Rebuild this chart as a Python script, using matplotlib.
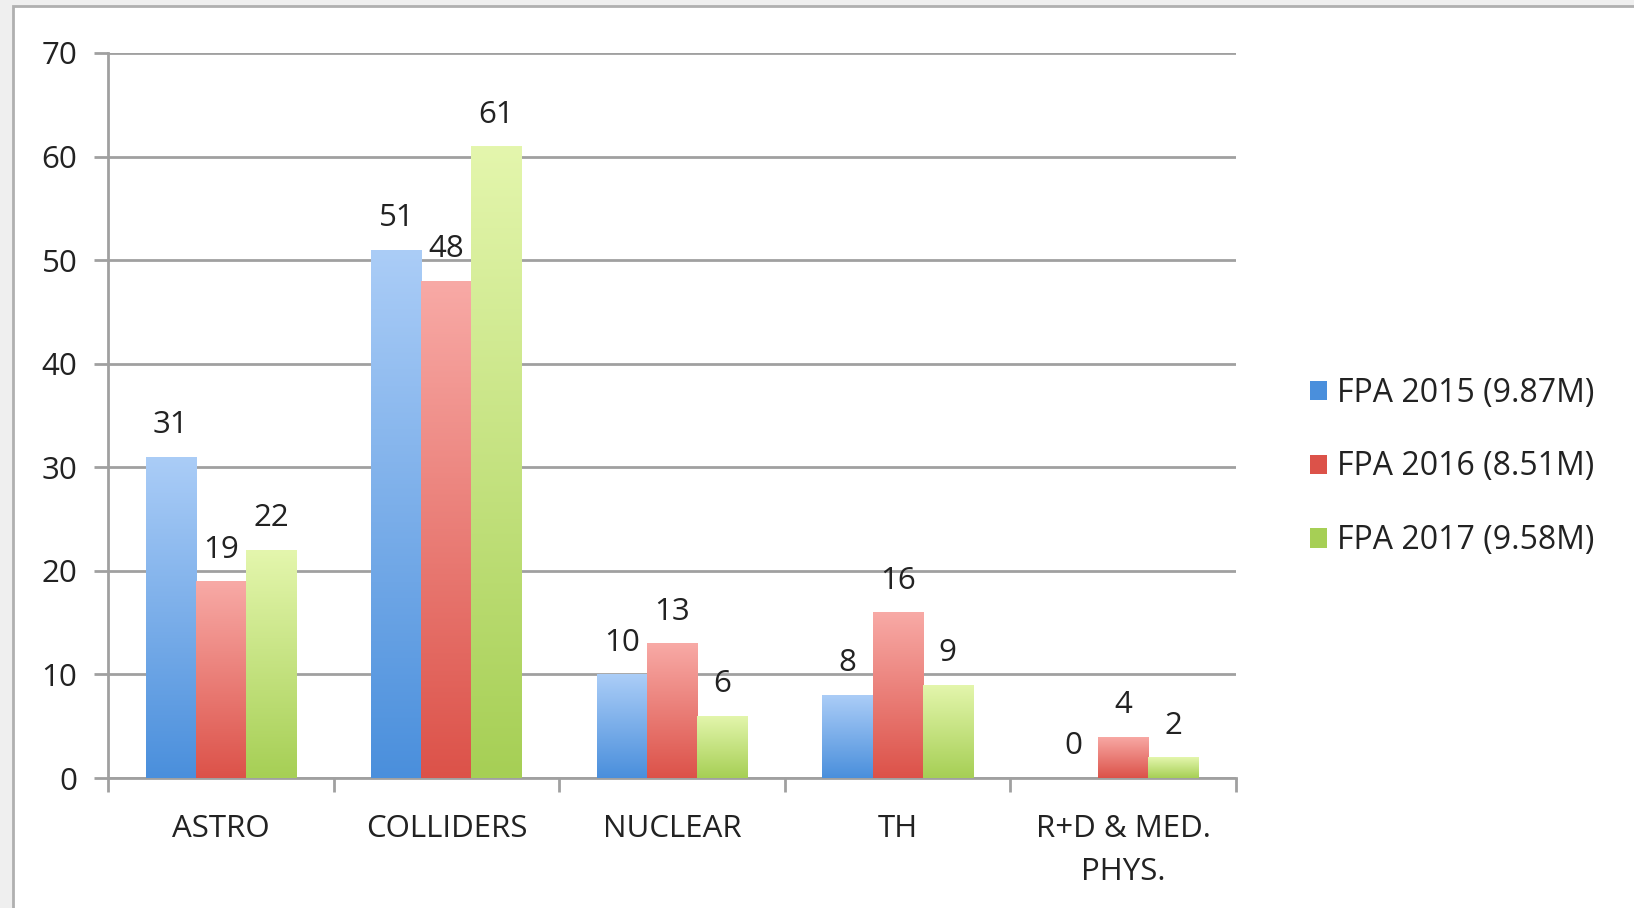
import numpy as np
import matplotlib
matplotlib.use("Agg")
import matplotlib.pyplot as plt
from matplotlib.colors import LinearSegmentedColormap
from matplotlib.patches import Rectangle

plt.rcParams['font.family'] = ['Open Sans', 'DejaVu Sans']

categories = ['ASTRO', 'COLLIDERS', 'NUCLEAR', 'TH', 'R+D & MED.\nPHYS.']
series_names = ['FPA 2015 (9.87M)', 'FPA 2016 (8.51M)', 'FPA 2017 (9.58M)']
fpa2015 = [31, 51, 10, 8, 0]
fpa2016 = [19, 48, 13, 16, 4]
fpa2017 = [22, 61, 6, 9, 2]
yticks = [0, 10, 20, 30, 40, 50, 60, 70]

# (top colour, bottom colour) for the vertical gradient of each series
grads = [('#abcdf7', '#4a8fdc'), ('#f8aaa6', '#dc5249'), ('#e4f6ad', '#a6cf55')]
FS = 22.5

fig = plt.figure(figsize=(16.34, 9.08), dpi=100)
fig.patch.set_facecolor('#efefef')
# white slide area with gray frame
fig.patches.append(Rectangle((13 / 1634, -0.05), 1.1, 1.05 - 6 / 908,
                             transform=fig.transFigure, facecolor='white',
                             edgecolor='#b0b0b0', linewidth=2, zorder=-10))

ax = fig.add_axes([108 / 1634, 1 - 778 / 908, (1236 - 108) / 1634, (778 - 53) / 908])
ax.set_facecolor('none')

x = np.arange(len(categories))
w = 0.222
data = [fpa2015, fpa2016, fpa2017]
grad = np.linspace(1, 0, 256).reshape(-1, 1)

for k, (vals, name, (ctop, cbot)) in enumerate(zip(data, series_names, grads)):
    pos = x + (k - 1) * w
    bars = ax.bar(pos, vals, w, color=cbot, label=name, zorder=2, linewidth=0)
    cmap = LinearSegmentedColormap.from_list('g%d' % k, [cbot, ctop])
    for b, v in zip(bars, vals):
        if v > 0:
            bx = b.get_x()
            im = ax.imshow(grad, cmap=cmap, aspect='auto', zorder=3,
                           extent=[bx, bx + b.get_width(), 0, v], origin='upper')
            im.set_clip_path(b)
        ax.annotate(str(v), (b.get_x() + b.get_width() / 2, v),
                    xytext=(0, 12), textcoords='offset points',
                    ha='center', va='bottom', fontsize=FS, color='#222222')

ax.set_xlim(-0.5, len(categories) - 0.5)
ax.set_ylim(0, 70)
ax.set_yticks(yticks)
ax.tick_params(axis='y', labelsize=FS, length=10, width=2, color='#a0a0a0',
               labelcolor='#222222', pad=12)
ax.grid(axis='y', color='#a0a0a0', linewidth=2, zorder=1)
ax.set_axisbelow(True)

# category labels centered, tick marks on category boundaries
ax.set_xticks(x)
ax.set_xticklabels(categories, linespacing=1.55)
ax.tick_params(axis='x', which='major', length=0, labelsize=FS, labelcolor='#222222', pad=26)
ax.set_xticks(np.arange(len(categories) + 1) - 0.5, minor=True)
ax.tick_params(axis='x', which='minor', length=10, width=2, color='#a0a0a0')

for s in ['top', 'right']:
    ax.spines[s].set_visible(False)
for s in ['left', 'bottom']:
    ax.spines[s].set_color('#a0a0a0')
    ax.spines[s].set_linewidth(2)

ax.legend(loc='center left', bbox_to_anchor=(1.04, 0.429), frameon=False,
          fontsize=23, handlelength=0.55, handleheight=0.55, handletextpad=0.3,
          labelspacing=1.28, labelcolor='#222222')

fig.savefig('out.png', dpi=100, facecolor=fig.get_facecolor())
